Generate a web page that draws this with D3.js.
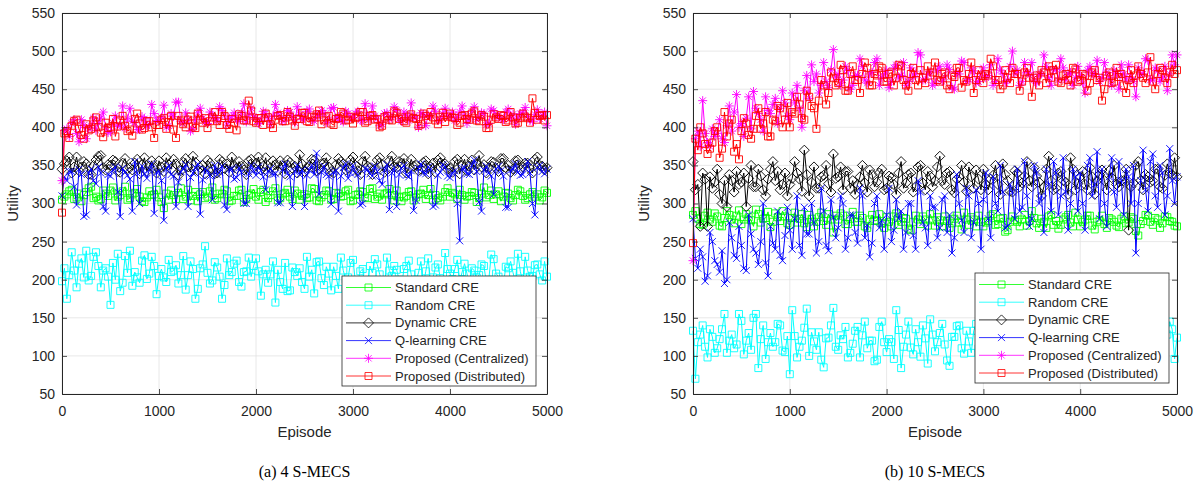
<!DOCTYPE html>
<html>
<head>
<meta charset="utf-8">
<script src="https://cdn.jsdelivr.net/npm/d3@7"></script>
<style>
  body { margin: 0; background: #fff; }
  svg { display: block; font-family: "Liberation Sans", Arial, sans-serif; }
</style>
</head>
<body>
<svg id="chart" width="1202" height="486"></svg>
<script>
// one value every 25 episodes, 0..5000 (201 values per series)
const episode_step = 25;
const x_ticks = [0, 1000, 2000, 3000, 4000, 5000];
const y_ticks = [50, 100, 150, 200, 250, 300, 350, 400, 450, 500, 550];

const series_names = ["Standard CRE", "Random CRE", "Dynamic CRE", "Q-learning CRE",
  "Proposed (Centralized)", "Proposed (Distributed)"];
const series_colors = ["#00ff00", "#00ffff", "#000000", "#0000ff", "#ff00ff", "#ff0000"];
const series_markers = ["square", "square", "diamond", "cross", "asterisk", "square"];
const panel_captions = ["(a) 4 S-MECS", "(b) 10 S-MECS"];

// (a) 4 S-MECS
const a_standard = [
  305, 309, 312, 316, 318, 306, 308, 313, 303, 311, 315, 320, 322, 307, 309, 304, 306, 317, 313, 310,
  317, 321, 304, 309, 311, 316, 322, 305, 307, 312, 314, 319, 309, 303, 302, 308, 316, 311, 312, 318,
  308, 302, 294, 313, 305, 317, 311, 306, 314, 320, 306, 309, 318, 304, 310, 315, 303, 312, 315, 307,
  309, 316, 321, 305, 307, 313, 312, 318, 316, 303, 304, 310, 310, 317, 318, 302, 306, 311, 313, 319,
  309, 305, 315, 318, 302, 307, 311, 316, 320, 304, 307, 312, 314, 318, 309, 306, 317, 313, 305, 310,
  312, 307, 308, 320, 319, 304, 303, 308, 311, 317, 316, 305, 306, 314, 313, 309, 310, 316, 318, 303,
  304, 311, 312, 316, 315, 308, 307, 319, 320, 306, 309, 313, 305, 312, 314, 319, 311, 304, 317, 309,
  303, 308, 310, 315, 316, 304, 308, 312, 313, 318, 306, 311, 319, 305, 311, 307, 304, 309, 315, 320,
  309, 314, 312, 306, 318, 311, 305, 309, 310, 315, 314, 302, 307, 313, 321, 308, 311, 317, 306, 312,
  316, 303, 309, 314, 313, 307, 304, 311, 318, 316, 310, 305, 307, 312, 315, 309, 312, 304, 308, 317,
  314];
const a_random = [
  198, 215, 175, 206, 236, 212, 190, 221, 228, 203, 238, 199, 205, 230, 236, 218, 190, 212, 215, 204,
  167, 222, 200, 234, 185, 196, 231, 209, 238, 192, 210, 203, 196, 225, 232, 201, 208, 230, 218, 181,
  205, 214, 203, 197, 226, 210, 212, 219, 195, 206, 231, 187, 206, 224, 214, 175, 188, 215, 220, 244,
  209, 195, 199, 223, 216, 204, 175, 193, 228, 206, 210, 221, 225, 197, 191, 210, 211, 229, 204, 218,
  228, 211, 179, 207, 213, 196, 207, 224, 170, 213, 197, 188, 222, 185, 186, 216, 210, 205, 215, 197,
  188, 230, 204, 213, 182, 223, 224, 202, 193, 217, 208, 186, 217, 205, 188, 229, 212, 200, 203, 222,
  226, 197, 199, 211, 214, 185, 195, 218, 209, 227, 220, 207, 196, 190, 229, 212, 205, 218, 213, 200,
  191, 214, 218, 225, 207, 199, 200, 209, 224, 192, 211, 228, 195, 203, 216, 220, 202, 193, 235, 214,
  208, 201, 214, 226, 198, 210, 221, 208, 190, 215, 212, 203, 206, 220, 218, 196, 200, 233, 227, 208,
  204, 196, 193, 217, 215, 224, 209, 198, 234, 211, 197, 230, 212, 204, 205, 219, 220, 207, 199, 224,
  204];
const a_dynamic = [
  345, 352, 356, 361, 340, 348, 361, 343, 348, 355, 352, 338, 338, 350, 357, 362, 363, 347, 344, 351,
  350, 357, 355, 342, 341, 353, 359, 346, 347, 344, 353, 358, 339, 351, 360, 342, 349, 356, 346, 340,
  356, 348, 342, 360, 351, 345, 358, 352, 337, 343, 354, 359, 348, 341, 362, 354, 343, 347, 350, 339,
  357, 353, 345, 339, 340, 358, 355, 346, 352, 341, 361, 350, 346, 355, 349, 344, 338, 356, 358, 347,
  353, 361, 344, 349, 360, 341, 347, 356, 351, 343, 356, 349, 339, 357, 354, 346, 349, 340, 364, 352,
  342, 347, 350, 358, 357, 343, 345, 352, 353, 360, 348, 342, 340, 351, 359, 355, 352, 344, 346, 357,
  361, 350, 343, 338, 355, 362, 349, 347, 338, 345, 357, 360, 351, 341, 344, 356, 362, 348, 347, 355,
  353, 359, 340, 346, 358, 349, 350, 343, 345, 354, 356, 339, 348, 353, 341, 357, 360, 351, 352, 345,
  346, 341, 355, 358, 339, 350, 358, 343, 349, 357, 344, 352, 363, 348, 351, 340, 347, 355, 354, 346,
  342, 359, 359, 347, 350, 341, 345, 356, 357, 344, 348, 353, 353, 346, 340, 358, 361, 350, 349, 344,
  347];
const a_qlearning = [
  310, 335, 330, 342, 342, 322, 298, 345, 338, 283, 285, 340, 345, 330, 326, 348, 340, 296, 290, 338,
  336, 344, 348, 315, 283, 346, 341, 337, 332, 290, 355, 340, 300, 349, 339, 333, 344, 352, 287, 341,
  342, 330, 278, 345, 350, 338, 336, 296, 328, 342, 345, 351, 296, 334, 340, 347, 352, 286, 331, 345,
  343, 336, 305, 350, 338, 341, 349, 298, 292, 345, 345, 332, 334, 347, 341, 300, 300, 339, 350, 343,
  337, 348, 343, 335, 318, 342, 346, 338, 339, 301, 301, 345, 352, 340, 335, 296, 342, 350, 338, 344,
  296, 337, 344, 350, 338, 366, 312, 341, 349, 338, 336, 299, 341, 343, 290, 336, 347, 352, 333, 340,
  350, 341, 338, 298, 300, 346, 345, 339, 336, 349, 342, 330, 325, 344, 351, 292, 340, 347, 296, 338,
  346, 350, 337, 335, 343, 291, 304, 346, 352, 340, 339, 348, 345, 296, 298, 337, 341, 351, 348, 336,
  334, 340, 343, 300, 251, 346, 347, 339, 338, 350, 357, 342, 302, 290, 344, 349, 340, 336, 312, 345,
  349, 343, 336, 295, 295, 344, 345, 352, 341, 337, 338, 346, 355, 340, 300, 285, 347, 350, 342, 339,
  345];
const a_centralized = [
  330, 396, 398, 388, 405, 410, 392, 381, 410, 403, 385, 398, 402, 412, 396, 405, 412, 420, 400, 393,
  394, 406, 415, 401, 403, 428, 399, 411, 425, 408, 406, 397, 397, 414, 411, 402, 404, 430, 418, 409,
  408, 413, 429, 400, 402, 418, 414, 433, 433, 408, 406, 419, 410, 395, 398, 410, 419, 425, 412, 407,
  405, 420, 416, 411, 409, 427, 422, 415, 403, 411, 414, 419, 411, 408, 419, 431, 407, 416, 425, 413,
  413, 405, 409, 421, 418, 411, 404, 415, 430, 419, 415, 408, 411, 422, 420, 413, 406, 427, 417, 410,
  412, 421, 424, 410, 408, 417, 415, 422, 419, 406, 410, 425, 426, 412, 414, 409, 407, 421, 418, 413,
  412, 418, 421, 409, 409, 431, 416, 410, 428, 415, 411, 402, 404, 418, 419, 410, 413, 427, 422, 411,
  408, 420, 416, 409, 432, 414, 412, 400, 419, 417, 402, 416, 415, 428, 421, 409, 410, 418, 425, 415,
  414, 420, 409, 413, 420, 428, 416, 405, 411, 421, 427, 410, 413, 419, 418, 403, 405, 424, 422, 414,
  415, 411, 410, 420, 424, 412, 417, 404, 412, 418, 420, 426, 414, 409, 408, 417, 423, 411, 416, 420,
  402];
const a_distributed = [
  288, 392, 395, 386, 402, 408, 410, 398, 390, 385, 404, 396, 398, 409, 413, 400, 393, 387, 406, 399,
  400, 411, 388, 401, 409, 415, 402, 395, 397, 389, 411, 418, 405, 397, 399, 408, 408, 400, 386, 403,
  403, 410, 412, 398, 407, 415, 397, 386, 415, 409, 404, 400, 410, 414, 401, 399, 418, 410, 406, 412,
  399, 408, 413, 420, 408, 403, 420, 415, 403, 398, 411, 406, 396, 417, 415, 409, 409, 435, 422, 408,
  406, 412, 412, 403, 418, 413, 404, 399, 410, 415, 416, 408, 408, 420, 414, 409, 402, 411, 411, 419,
  419, 408, 407, 414, 413, 417, 422, 404, 409, 413, 415, 405, 403, 411, 412, 420, 418, 409, 410, 414,
  405, 412, 414, 420, 420, 406, 408, 415, 416, 410, 411, 400, 402, 413, 415, 410, 409, 421, 419, 411,
  413, 408, 406, 414, 417, 412, 411, 402, 404, 418, 415, 410, 420, 413, 409, 404, 414, 419, 407, 414,
  418, 413, 412, 403, 406, 415, 416, 411, 410, 418, 421, 409, 408, 416, 414, 399, 399, 410, 417, 413,
  411, 416, 415, 407, 409, 420, 413, 405, 406, 412, 418, 414, 412, 406, 438, 419, 410, 415, 416, 409,
  416];

// (b) 10 S-MECS
const b_standard = [
  285, 290, 280, 273, 272, 284, 288, 279, 276, 287, 283, 271, 270, 281, 290, 285, 279, 274, 284, 291,
  273, 279, 286, 282, 278, 270, 292, 286, 275, 280, 281, 289, 269, 276, 287, 282, 277, 290, 283, 274,
  272, 281, 288, 275, 280, 286, 274, 269, 285, 280, 270, 276, 282, 288, 277, 272, 286, 279, 262, 284,
  279, 287, 284, 273, 273, 280, 289, 276, 276, 284, 281, 270, 268, 279, 285, 277, 278, 286, 274, 268,
  282, 276, 270, 283, 287, 272, 276, 281, 280, 267, 265, 276, 284, 279, 273, 283, 279, 271, 286, 278,
  271, 282, 278, 270, 283, 277, 268, 274, 280, 284, 275, 266, 288, 279, 272, 282, 279, 270, 284, 276,
  270, 275, 277, 284, 286, 272, 273, 280, 281, 263, 265, 276, 283, 278, 276, 270, 279, 285, 271, 277,
  290, 281, 274, 268, 280, 276, 268, 283, 285, 272, 277, 267, 272, 279, 282, 285, 275, 270, 288, 279,
  270, 276, 279, 284, 284, 271, 266, 276, 278, 284, 273, 268, 281, 279, 276, 271, 269, 280, 283, 274,
  275, 282, 280, 264, 258, 273, 277, 285, 284, 276, 272, 281, 279, 268, 274, 283, 282, 277, 276, 271,
  270];
const b_random = [
  133, 70, 118, 128, 140, 112, 98, 135, 125, 104, 110, 122, 135, 155, 104, 120, 128, 110, 115, 155,
  146, 102, 120, 130, 108, 150, 155, 84, 122, 140, 96, 118, 130, 112, 118, 142, 140, 107, 105, 126,
  76, 160, 126, 98, 112, 120, 137, 162, 100, 131, 119, 108, 131, 95, 85, 123, 124, 140, 163, 112,
  108, 127, 122, 138, 98, 104, 116, 133, 138, 98, 127, 145, 110, 120, 120, 93, 95, 138, 145, 118,
  105, 122, 118, 96, 160, 134, 84, 112, 128, 145, 111, 102, 135, 118, 99, 140, 123, 90, 148, 128,
  106, 118, 130, 142, 115, 94, 87, 125, 125, 139, 140, 110, 103, 133, 119, 104, 133, 142, 110, 121,
  126, 100, 96, 131, 138, 105, 117, 128, 108, 140, 145, 112, 121, 99, 100, 135, 134, 114, 88, 126,
  124, 139, 112, 102, 140, 118, 105, 130, 128, 109, 118, 152, 150, 127, 99, 113, 121, 137, 132, 115,
  110, 96, 126, 140, 92, 118, 138, 123, 115, 99, 107, 131, 129, 116, 120, 144, 143, 119, 101, 130,
  125, 108, 117, 136, 134, 100, 96, 119, 122, 131, 112, 105, 140, 122, 108, 118, 128, 145, 135, 96,
  124];
const b_dynamic = [
  355, 318, 325, 270, 340, 332, 270, 335, 320, 328, 345, 312, 300, 330, 296, 338, 330, 315, 342, 325,
  328, 340, 296, 333, 350, 322, 322, 345, 336, 318, 310, 332, 345, 355, 330, 342, 318, 325, 340, 310,
  325, 333, 355, 340, 332, 316, 370, 338, 310, 328, 348, 320, 320, 335, 337, 350, 326, 315, 365, 333,
  335, 348, 318, 342, 342, 320, 330, 312, 325, 335, 350, 327, 315, 344, 338, 322, 328, 340, 345, 318,
  320, 336, 334, 325, 312, 340, 355, 320, 327, 338, 340, 315, 322, 348, 350, 327, 318, 342, 336, 322,
  330, 348, 362, 330, 325, 340, 342, 318, 314, 332, 335, 350, 328, 316, 348, 335, 320, 344, 332, 318,
  345, 325, 318, 332, 337, 350, 325, 312, 352, 338, 330, 316, 315, 343, 340, 322, 327, 336, 355, 330,
  322, 347, 336, 328, 310, 322, 345, 362, 330, 318, 320, 340, 342, 330, 328, 312, 360, 345, 318, 326,
  335, 342, 325, 318, 347, 335, 312, 330, 338, 344, 330, 318, 343, 334, 350, 325, 322, 330, 330, 345,
  265, 322, 327, 350, 355, 330, 318, 338, 335, 328, 330, 345, 345, 322, 320, 337, 352, 340, 338, 360,
  335];
const b_qlearning = [
  280, 228, 215, 240, 230, 198, 205, 262, 250, 225, 220, 210, 238, 195, 200, 275, 255, 232, 228, 270,
  245, 215, 212, 285, 260, 240, 235, 220, 250, 300, 222, 205, 270, 248, 240, 290, 232, 225, 258, 295,
  265, 240, 280, 310, 245, 232, 295, 260, 260, 300, 275, 235, 250, 320, 290, 245, 238, 305, 282, 255,
  268, 310, 300, 240, 255, 285, 285, 262, 248, 320, 310, 255, 272, 230, 248, 300, 310, 268, 278, 240,
  285, 320, 250, 265, 305, 280, 290, 240, 262, 300, 300, 258, 240, 330, 315, 275, 268, 245, 310, 295,
  295, 255, 268, 305, 310, 262, 285, 235, 255, 338, 300, 278, 262, 320, 310, 255, 275, 318, 300, 240,
  305, 340, 280, 255, 335, 300, 290, 350, 315, 268, 270, 325, 315, 280, 345, 290, 295, 355, 310, 270,
  280, 350, 340, 300, 310, 262, 345, 325, 290, 355, 340, 285, 310, 360, 315, 265, 300, 345, 335, 290,
  340, 300, 265, 350, 360, 310, 325, 368, 280, 345, 300, 270, 335, 360, 315, 295, 355, 330, 285, 345,
  335, 300, 350, 235, 300, 330, 370, 318, 290, 355, 365, 310, 295, 350, 340, 285, 310, 372, 330, 300,
  335];
const b_centralized = [
  225, 385, 395, 375, 435, 392, 380, 375, 398, 388, 392, 410, 385, 380, 402, 428, 395, 420, 443, 400,
  405, 388, 412, 440, 398, 447, 425, 418, 410, 395, 440, 422, 418, 430, 438, 405, 425, 448, 432, 415,
  410, 445, 432, 455, 425, 400, 448, 468, 438, 482, 460, 470, 445, 455, 485, 460, 452, 475, 502, 465,
  470, 455, 462, 480, 475, 450, 455, 468, 468, 490, 480, 462, 458, 470, 472, 485, 490, 455, 465, 470,
  475, 452, 460, 478, 482, 465, 468, 485, 455, 460, 478, 465, 470, 498, 495, 462, 462, 470, 473, 455,
  458, 475, 480, 460, 466, 482, 476, 452, 450, 472, 470, 487, 485, 460, 463, 478, 474, 458, 460, 470,
  478, 465, 468, 482, 455, 460, 490, 475, 470, 458, 462, 480, 500, 470, 475, 455, 460, 485, 472, 468,
  485, 462, 458, 470, 470, 495, 480, 465, 455, 475, 476, 462, 490, 478, 462, 470, 472, 455, 465, 480,
  468, 458, 445, 475, 480, 470, 470, 488, 460, 465, 485, 472, 465, 455, 475, 470, 450, 482, 470, 462,
  482, 466, 460, 440, 478, 470, 470, 490, 488, 462, 462, 478, 474, 460, 465, 480, 448, 470, 495, 482,
  495];
const b_distributed = [
  248, 385, 370, 400, 392, 378, 365, 372, 380, 395, 400, 360, 372, 420, 388, 405, 410, 368, 378, 358,
  395, 412, 405, 390, 385, 398, 415, 425, 398, 405, 420, 388, 388, 410, 408, 428, 425, 400, 410, 432,
  400, 420, 418, 440, 430, 412, 410, 448, 440, 428, 425, 398, 435, 462, 455, 430, 445, 472, 465, 455,
  458, 482, 475, 448, 448, 470, 480, 462, 462, 445, 470, 485, 478, 455, 455, 470, 468, 480, 478, 460,
  460, 470, 472, 455, 465, 482, 480, 462, 455, 448, 470, 478, 462, 455, 475, 465, 458, 480, 468, 472,
  485, 462, 460, 470, 472, 455, 450, 468, 466, 478, 478, 452, 462, 460, 470, 485, 445, 462, 475, 468,
  458, 470, 468, 490, 480, 462, 462, 450, 455, 475, 465, 458, 478, 470, 470, 448, 460, 472, 478, 465,
  440, 465, 468, 455, 475, 472, 458, 480, 465, 475, 482, 460, 458, 468, 470, 462, 455, 478, 476, 460,
  462, 470, 468, 448, 458, 472, 475, 462, 465, 435, 450, 468, 472, 458, 460, 478, 466, 470, 455, 445,
  462, 475, 458, 468, 480, 470, 465, 458, 472, 492, 460, 450, 470, 478, 475, 465, 458, 472, 482, 470,
  475];

const panels = [
  { series: [a_standard, a_random, a_dynamic, a_qlearning, a_centralized, a_distributed],
    left: 62, right: 547, legend_x: 342, legend_y: 276 },
  { series: [b_standard, b_random, b_dynamic, b_qlearning, b_centralized, b_distributed],
    left: 693, right: 1177, legend_x: 975, legend_y: 273 },
];
const plot_top = 13, plot_bottom = 394;
const axis_color = "#262626";

function marker_path(type) {
  if (type == "square") return "M-3.5,-3.5h7v7h-7Z";
  if (type == "diamond") return "M0,-5L5,0L0,5L-5,0Z";
  if (type == "cross") return "M-3.5,-3.5L3.5,3.5M-3.5,3.5L3.5,-3.5";
  // asterisk
  return "M0,-4.5V4.5M-4.5,0H4.5M-3.2,-3.2L3.2,3.2M-3.2,3.2L3.2,-3.2";
}

let svg = d3.select("#chart");

panels.forEach((panel, p) => {
  panel.series.forEach((s, i) => {
    if (s.length != 201) throw new Error(`panel ${p} series ${i} has ${s.length} values`);
  });

  let x = d3.scaleLinear().domain([0, 5000]).range([panel.left, panel.right]);
  let y = d3.scaleLinear().domain([50, 550]).range([plot_bottom, plot_top]);
  let g = svg.append("g");

  // grid
  g.selectAll(".hgrid").data(y_ticks).join("line")
    .attr("x1", panel.left).attr("x2", panel.right)
    .attr("y1", d => y(d)).attr("y2", d => y(d))
    .attr("stroke", "#e2e2e2").attr("stroke-width", 0.8);
  g.selectAll(".vgrid").data(x_ticks).join("line")
    .attr("y1", plot_top).attr("y2", plot_bottom)
    .attr("x1", d => x(d)).attr("x2", d => x(d))
    .attr("stroke", "#e2e2e2").attr("stroke-width", 0.8);

  // series, in plot order so later ones sit on top
  let line = d3.line().x((d, k) => x(k * episode_step)).y(d => y(d));
  panel.series.forEach((values, i) => {
    let sg = g.append("g");
    sg.append("path")
      .attr("d", line(values))
      .attr("fill", "none")
      .attr("stroke", series_colors[i])
      .attr("stroke-width", 1);
    sg.selectAll("path.mk").data(values).join("path")
      .attr("class", "mk")
      .attr("d", marker_path(series_markers[i]))
      .attr("transform", (d, k) => `translate(${x(k * episode_step)},${y(d)})`)
      .attr("fill", "none")
      .attr("stroke", series_colors[i])
      .attr("stroke-width", 0.9);
  });

  // axes with inward ticks on all four sides
  let axes = [
    [d3.axisBottom(x).tickValues(x_ticks).tickFormat(d3.format("d")).tickPadding(12), `translate(0,${plot_bottom})`],
    [d3.axisTop(x).tickValues(x_ticks).tickFormat(""), `translate(0,${plot_top})`],
    [d3.axisLeft(y).tickValues(y_ticks).tickPadding(7), `translate(${panel.left},0)`],
    [d3.axisRight(y).tickValues(y_ticks).tickFormat(""), `translate(${panel.right},0)`],
  ];
  axes.forEach(([axis, tr]) => {
    let ag = g.append("g").attr("transform", tr)
      .call(axis.tickSizeInner(-5).tickSizeOuter(0));
    ag.select(".domain").attr("stroke", axis_color).attr("stroke-width", 1);
    ag.selectAll(".tick line").attr("stroke", axis_color).attr("stroke-width", 0.8);
    ag.selectAll(".tick text").attr("fill", axis_color)
      .style("font-family", "'Liberation Sans', Arial, sans-serif").style("font-size", "14px");
  });

  let cx = (panel.left + panel.right) / 2;
  g.append("text")
    .attr("x", cx).attr("y", 437)
    .attr("text-anchor", "middle")
    .attr("fill", axis_color)
    .style("font-size", "15px")
    .text("Episode");
  g.append("text")
    .attr("transform", `translate(${panel.left - 44},${(plot_top + plot_bottom) / 2}) rotate(-90)`)
    .attr("text-anchor", "middle")
    .attr("fill", axis_color)
    .style("font-size", "15px")
    .text("Utility");
  g.append("text")
    .attr("x", cx).attr("y", 477)
    .attr("text-anchor", "middle")
    .attr("fill", "#000")
    .style("font-family", "'Liberation Serif', 'Times New Roman', serif")
    .style("font-size", "16px")
    .text(panel_captions[p]);

  // legend
  let lg = g.append("g").attr("transform", `translate(${panel.legend_x},${panel.legend_y})`);
  lg.append("rect")
    .attr("width", 194).attr("height", 110)
    .attr("fill", "#fff").attr("stroke", axis_color).attr("stroke-width", 0.8);
  series_names.forEach((name, i) => {
    let ry = 11.5 + i * 17.7;
    lg.append("line")
      .attr("x1", 4).attr("x2", 49).attr("y1", ry).attr("y2", ry)
      .attr("stroke", series_colors[i]).attr("stroke-width", 0.8);
    lg.append("path")
      .attr("d", marker_path(series_markers[i]))
      .attr("transform", `translate(26.5,${ry})`)
      .attr("fill", "none").attr("stroke", series_colors[i]).attr("stroke-width", 0.8);
    lg.append("text")
      .attr("x", 53).attr("y", ry).attr("dy", "0.35em")
      .attr("fill", axis_color)
      .style("font-size", "13px")
      .text(name);
  });
});
</script>
</body>
</html>
